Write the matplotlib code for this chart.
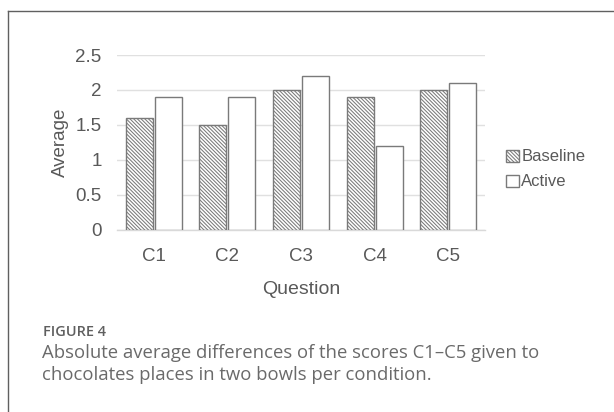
import numpy as np
import matplotlib.pyplot as plt
import matplotlib as mpl
from matplotlib.lines import Line2D

questions = ['C1', 'C2', 'C3', 'C4', 'C5']
baseline = [1.6, 1.5, 2.0, 1.9, 2.0]
active = [1.9, 1.9, 2.2, 1.2, 2.1]
yticks = [0, 0.5, 1, 1.5, 2, 2.5]
yticklabels = ['0', '0.5', '1', '1.5', '2', '2.5']

W, H = 614, 412
mpl.rcParams['font.family'] = ['Liberation Sans', 'DejaVu Sans']
mpl.rcParams['hatch.color'] = '#333333'
mpl.rcParams['hatch.linewidth'] = 0.75

fig = plt.figure(figsize=(W / 100, H / 100), dpi=100)
fig.patch.set_facecolor('white')

def px(x0, y0, x1, y1):
    # pixel box -> figure fraction rect
    return [x0 / W, 1 - y1 / H, (x1 - x0) / W, (y1 - y0) / H]

# plot area in pixels
ax = fig.add_axes(px(117, 55, 485, 229.5))
x = np.arange(len(questions))
bw = 0.367
gap = 0.014
ax.bar(x - bw / 2 - gap, baseline, bw, facecolor='white', edgecolor='#7a7a7a',
       hatch='\\' * 9, linewidth=1.0, label='Baseline', zorder=3)
ax.bar(x + bw / 2 + gap, active, bw, facecolor='white', edgecolor='#7a7a7a',
       linewidth=1.0, label='Active', zorder=3)

ax.set_xlim(-0.5, len(questions) - 0.5)
ax.set_ylim(0, 2.5)
ax.set_yticks(yticks)
ax.set_yticklabels(yticklabels)
ax.set_xticks(x)
ax.set_xticklabels(questions)
ax.grid(axis='y', color='#e0e0e0', linewidth=1.0, zorder=0)
for s in ['top', 'right', 'left']:
    ax.spines[s].set_visible(False)
ax.spines['bottom'].set_color('#d9d9d9')
ax.spines['bottom'].set_linewidth(1.0)
ax.tick_params(length=0, labelsize=13.5, labelcolor='#595959')
ax.tick_params(axis='y', pad=11)
ax.tick_params(axis='x', pad=13)
ax.set_ylabel('Average', fontsize=13.5, color='#595959', labelpad=5)
ax.set_xlabel('Question', fontsize=14, color='#595959', labelpad=12)

leg = ax.legend(loc='center left', bbox_to_anchor=(1.035, 0.344), frameon=False,
                fontsize=12, handlelength=0.75, handleheight=0.75,
                handletextpad=0.15, labelspacing=0.6, borderpad=0)
for t in leg.get_texts():
    t.set_color('#595959')

# frame around the figure panel
fig.add_artist(Line2D([7.5 / W, 7.5 / W], [0, 1 - 11 / H], color='#606060', linewidth=1.0))
fig.add_artist(Line2D([7.5 / W, 1], [1 - 11 / H, 1 - 11 / H], color='#606060', linewidth=1.0))

cap_font = ['Open Sans', 'DejaVu Sans']
t0 = fig.text(43 / W, 1 - 332 / H, 'FIGURE 4', fontsize=10, color='#5f5f5f',
              family=cap_font, fontweight='semibold', va='center')
t1 = fig.text(42 / W, 1 - 353.5 / H, 'Absolute average differences of the scores C1\u2013C5 given to',
              fontsize=12.5, color='#6a6a6a', family=cap_font, va='center')
t2 = fig.text(42 / W, 1 - 375 / H, 'chocolates places in two bowls per condition.',
              fontsize=12.5, color='#6a6a6a', family=cap_font, va='center')

# scale caption text so its width matches the reference
fig.canvas.draw()
r = fig.canvas.get_renderer()
for t, target in [(t0, 63), (t1, 497)]:
    w = t.get_window_extent(r).width
    t.set_fontsize(t.get_fontsize() * target / w)
t2.set_fontsize(t1.get_fontsize())

fig.savefig('out.png', dpi=100)
